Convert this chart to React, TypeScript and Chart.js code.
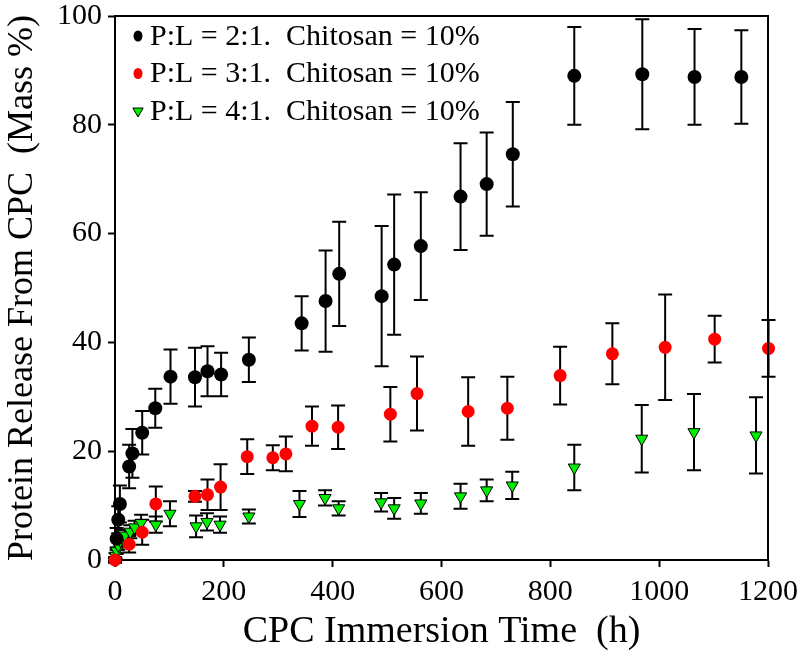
import React, { useEffect, useRef } from "react";
import { Chart, registerables } from "chart.js";

Chart.register(...registerables);

// ---- Data ----
const seriesLabels = [
  "P:L = 2:1.  Chitosan = 10%",
  "P:L = 3:1.  Chitosan = 10%",
  "P:L = 4:1.  Chitosan = 10%",
];

const blackX = [3, 6, 9, 26, 32, 50, 74, 102, 147, 170, 195, 246, 343, 387, 412, 490, 513, 562, 635, 683, 731, 844, 969, 1065, 1151];
const blackY = [3.9, 7.4, 10.3, 17.2, 19.6, 23.4, 27.9, 33.7, 33.6, 34.7, 34.1, 36.8, 43.5, 47.6, 52.6, 48.5, 54.3, 57.7, 66.8, 69.1, 74.6, 89.0, 89.3, 88.8, 88.8];
const blackErr = [2.0, 2.5, 3.4, 4.0, 4.5, 4.0, 3.6, 5.0, 5.4, 4.6, 4.0, 4.1, 5.0, 9.3, 9.6, 12.9, 12.9, 9.9, 9.8, 9.5, 9.6, 9.0, 10.1, 8.8, 8.6];

const redX = [0, 26, 50, 75, 147, 170, 194, 243, 290, 314, 362, 410, 506, 555, 649, 721, 818, 914, 1011, 1102, 1201];
const redY = [0, 2.9, 5.1, 10.3, 11.7, 12.0, 13.4, 19.0, 18.8, 19.5, 24.6, 24.4, 26.8, 30.6, 27.3, 27.9, 33.9, 37.9, 39.1, 40.6, 38.9];
const redErr = [0.5, 1.5, 2.3, 3.2, 1.0, 2.8, 4.2, 3.2, 2.3, 3.2, 3.6, 4.0, 5.0, 6.8, 6.3, 5.8, 5.3, 5.6, 9.7, 4.3, 5.2];

const greenX = [0, 1, 3, 6, 10, 18, 28, 36, 48, 75, 101, 149, 169, 193, 246, 339, 386, 411, 489, 513, 562, 635, 683, 730, 844, 968, 1064, 1178];
const greenY = [0, 0.8, 1.7, 2.7, 3.6, 4.5, 5.2, 6.0, 6.8, 6.5, 8.5, 6.2, 7.0, 6.5, 8.0, 10.3, 11.4, 9.5, 10.6, 9.5, 10.4, 11.7, 12.8, 13.7, 17.0, 22.3, 23.5, 22.9];
const greenErr = [0.3, 0.5, 0.6, 0.8, 1.0, 1.0, 1.2, 1.2, 1.5, 1.5, 2.3, 2.0, 1.6, 1.5, 1.3, 2.4, 1.4, 1.3, 1.7, 1.9, 1.9, 2.3, 2.0, 2.5, 4.2, 6.2, 7.0, 7.0];

const xTicks = [0, 200, 400, 600, 800, 1000, 1200];
const yTicks = [0, 20, 40, 60, 80, 100];

const xTitle = "CPC Immersion Time  (h)";
const yTitle = "Protein Release From CPC  (Mass %)";

const FONT = '"Liberation Serif", "Times New Roman", serif';

const toPoints = (xs: number[], ys: number[]) => xs.map((x, i) => ({ x, y: ys[i] }));

const errorBarPlugin = {
  id: "errorBars",
  beforeDatasetsDraw(chart: any) {
    const { ctx } = chart;
    const xs = chart.scales.x;
    const ys = chart.scales.y;
    ctx.save();
    ctx.strokeStyle = "#000";
    ctx.lineWidth = 2;
    chart.data.datasets.forEach((ds: any) => {
      const errs: number[] = ds.errors || [];
      ds.data.forEach((p: any, j: number) => {
        const e = errs[j];
        if (!e) return;
        const px = xs.getPixelForValue(p.x);
        const top = ys.getPixelForValue(p.y + e);
        const bot = ys.getPixelForValue(p.y - e);
        ctx.beginPath();
        ctx.moveTo(px, top);
        ctx.lineTo(px, bot);
        ctx.moveTo(px - 7, top);
        ctx.lineTo(px + 7, top);
        ctx.moveTo(px - 7, bot);
        ctx.lineTo(px + 7, bot);
        ctx.stroke();
      });
    });
    ctx.restore();
  },
};

const framePlugin = {
  id: "frame",
  afterDraw(chart: any) {
    const { ctx, chartArea } = chart;
    ctx.save();
    ctx.strokeStyle = "#000";
    ctx.lineWidth = 2;
    ctx.beginPath();
    ctx.moveTo(chartArea.left, chartArea.top);
    ctx.lineTo(chartArea.right, chartArea.top);
    ctx.lineTo(chartArea.right, chartArea.bottom);
    ctx.stroke();
    ctx.restore();
  },
};

const legendPlugin = {
  id: "insideLegend",
  afterDraw(chart: any) {
    const { ctx, chartArea } = chart;
    ctx.save();
    ctx.font = `30px ${FONT}`;
    ctx.textBaseline = "middle";
    ctx.textAlign = "left";
    chart.data.datasets.forEach((ds: any, i: number) => {
      const cy = chartArea.top + 20 + i * 37.5;
      const cx = chartArea.left + 23;
      ctx.fillStyle = ds.backgroundColor;
      ctx.strokeStyle = "#000";
      ctx.lineWidth = 1;
      ctx.beginPath();
      if (ds.pointStyle === "triangle") {
        const r = 6;
        ctx.moveTo(cx - r * 0.866, cy - r * 0.5);
        ctx.lineTo(cx + r * 0.866, cy - r * 0.5);
        ctx.lineTo(cx, cy + r);
        ctx.closePath();
        ctx.fill();
        ctx.stroke();
      } else {
        ctx.ellipse(cx, cy, 4.5, 5.5, 0, 0, Math.PI * 2);
        ctx.fill();
      }
      ctx.fillStyle = "#000";
      ctx.fillText(ds.label, chartArea.left + 35, cy + 1);
    });
    ctx.restore();
  },
};

export default function App() {
  const canvasRef = useRef<HTMLCanvasElement | null>(null);

  useEffect(() => {
    if (!canvasRef.current) return;
    const chart = new Chart(canvasRef.current, {
      type: "scatter",
      data: {
        datasets: [
          {
            label: seriesLabels[0],
            data: toPoints(blackX, blackY),
            errors: blackErr,
            backgroundColor: "#000000",
            borderColor: "#000000",
            pointStyle: "circle",
            pointRadius: 7,
            borderWidth: 0,
            clip: false,
          } as any,
          {
            label: seriesLabels[1],
            data: toPoints(redX, redY),
            errors: redErr,
            backgroundColor: "#ff0000",
            borderColor: "#ff0000",
            pointStyle: "circle",
            pointRadius: 6.5,
            borderWidth: 0,
            clip: false,
          } as any,
          {
            label: seriesLabels[2],
            data: toPoints(greenX, greenY),
            errors: greenErr,
            backgroundColor: "#00ee00",
            borderColor: "#000000",
            pointStyle: "triangle",
            rotation: 180,
            pointRadius: 7,
            borderWidth: 1,
            clip: false,
          } as any,
        ],
      },
      options: {
        animation: false,
        responsive: false,
        layout: { padding: { top: 16, right: 32, left: 0, bottom: 0 } },
        plugins: {
          legend: { display: false },
          tooltip: { enabled: false },
        },
        scales: {
          x: {
            type: "linear",
            min: 0,
            max: 1200,
            afterBuildTicks: (s: any) => {
              s.ticks = xTicks.map((v) => ({ value: v }));
            },
            afterFit: (s: any) => {
              s.height = 110;
              s.paddingLeft = 0;
              s.paddingRight = 0;
              s.paddingTop = 0;
              s.paddingBottom = 0;
            },
            grid: {
              drawOnChartArea: false,
              drawTicks: true,
              tickLength: 7,
              tickWidth: 2,
              tickColor: "#000",
            },
            border: { display: true, color: "#000", width: 2 },
            ticks: {
              color: "#000",
              padding: 7,
              maxRotation: 0,
              autoSkip: false,
              callback: (v: any) => String(v),
              font: { family: FONT, size: 30, lineHeight: 1.2 },
            },
            title: {
              display: true,
              text: xTitle,
              color: "#000",
              font: { family: FONT, size: 38, lineHeight: 1.2 },
              padding: { top: 0, bottom: 15 },
            },
          },
          y: {
            type: "linear",
            min: 0,
            max: 100,
            afterBuildTicks: (s: any) => {
              s.ticks = yTicks.map((v) => ({ value: v }));
            },
            afterFit: (s: any) => {
              s.width = 115;
              s.paddingLeft = 0;
              s.paddingRight = 0;
              s.paddingTop = 0;
              s.paddingBottom = 0;
            },
            grid: {
              drawOnChartArea: false,
              drawTicks: true,
              tickLength: 7,
              tickWidth: 2,
              tickColor: "#000",
            },
            border: { display: true, color: "#000", width: 2 },
            ticks: {
              color: "#000",
              padding: 6,
              autoSkip: false,
              callback: (v: any) => String(v),
              font: { family: FONT, size: 30, lineHeight: 1.0 },
            },
            title: {
              display: true,
              text: yTitle,
              color: "#000",
              font: { family: FONT, size: 36, lineHeight: 1.2 },
              padding: { top: 1, bottom: 0 },
            },
          },
        },
      },
      plugins: [errorBarPlugin, framePlugin, legendPlugin],
    } as any);
    return () => chart.destroy();
  }, []);

  return (
    <div style={{ position: "absolute", left: 0, top: 0, width: 800, height: 670, background: "#fff" }}>
      <canvas ref={canvasRef} width={800} height={670} />
    </div>
  );
}
